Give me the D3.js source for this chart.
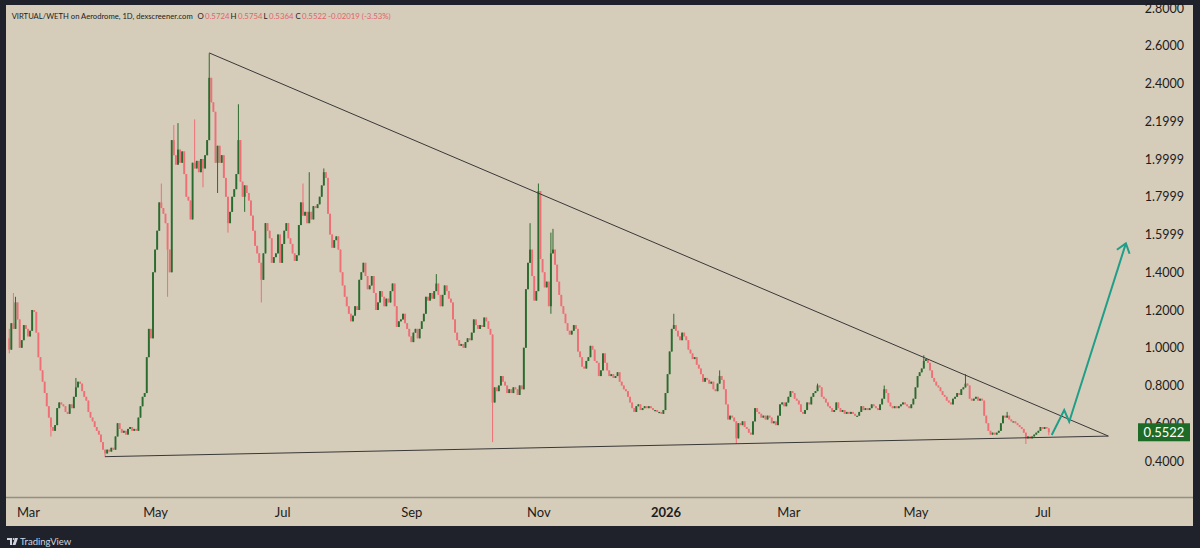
<!DOCTYPE html>
<html>
<head>
<meta charset="utf-8">
<script src="https://cdn.jsdelivr.net/npm/d3@7"></script>
<style>
  html, body { margin: 0; padding: 0; background: #1f222b; }
  svg { display: block; }
</style>
</head>
<body>
<svg id="chart" width="1200" height="548"></svg>
<script>
// ---- data ----
const startDay = "2025-02-20"; // first daily candle
const firstOpen = 1.05;
// daily closes, one per day from startDay (open = previous close)
const closes = [
  0.99,1.13,1.10,1.24,1.15,1.00,1.04,1.12,1.10,1.06,
  1.09,1.20,1.19,1.08,0.95,0.88,0.82,0.76,0.69,0.63,
  0.58,0.56,0.59,0.68,0.71,0.70,0.69,0.66,0.65,0.70,
  0.68,0.74,0.79,0.82,0.81,0.77,0.74,0.72,0.66,0.63,
  0.61,0.58,0.56,0.54,0.50,0.46,0.44,0.46,0.45,0.47,
  0.46,0.53,0.60,0.57,0.55,0.56,0.54,0.57,0.58,0.56,
  0.57,0.56,0.63,0.69,0.74,0.76,0.95,1.10,1.05,1.40,
  1.52,1.62,1.77,1.74,1.71,1.66,1.52,1.40,2.10,2.02,
  1.97,2.05,1.98,2.04,1.92,1.80,1.78,1.68,1.98,1.95,
  1.99,1.93,2.00,1.95,2.02,2.10,2.43,2.30,2.25,1.98,
  2.07,1.98,2.02,1.90,1.80,1.66,1.72,1.80,1.84,1.92,
  2.10,1.88,1.80,1.86,1.82,1.78,1.70,1.62,1.54,1.50,
  1.45,1.36,1.50,1.66,1.62,1.58,1.45,1.48,1.50,1.60,
  1.45,1.55,1.62,1.66,1.58,1.55,1.50,1.46,1.49,1.65,
  1.77,1.70,1.72,1.66,1.72,1.68,1.75,1.74,1.76,1.80,
  1.86,1.93,1.90,1.71,1.60,1.53,1.57,1.59,1.52,1.40,
  1.33,1.27,1.22,1.18,1.14,1.17,1.22,1.20,1.36,1.40,
  1.45,1.38,1.31,1.33,1.38,1.29,1.20,1.24,1.30,1.27,
  1.22,1.26,1.24,1.30,1.34,1.22,1.11,1.14,1.15,1.18,
  1.13,1.10,1.06,1.03,1.08,1.10,1.05,1.10,1.14,1.18,
  1.27,1.25,1.29,1.26,1.30,1.34,1.28,1.22,1.28,1.33,
  1.30,1.26,1.24,1.15,1.08,1.04,1.01,1.02,1.00,1.03,
  1.05,1.04,1.08,1.15,1.12,1.10,1.12,1.11,1.16,1.14,
  1.10,1.07,0.71,0.79,0.77,0.80,0.85,0.82,0.80,0.76,
  0.78,0.76,0.79,0.78,0.75,0.80,0.78,1.00,1.31,1.45,
  1.52,1.38,1.25,1.30,1.83,1.47,1.40,1.32,1.35,1.22,
  1.50,1.52,1.44,1.35,1.28,1.22,1.18,1.13,1.09,1.07,
  1.09,1.12,1.10,0.98,0.95,0.90,0.89,0.93,0.95,1.01,
  0.99,0.93,0.92,0.85,0.88,0.97,0.92,0.88,0.85,0.86,
  0.84,0.85,0.87,0.82,0.80,0.78,0.77,0.74,0.71,0.68,
  0.66,0.69,0.70,0.67,0.68,0.69,0.68,0.69,0.68,0.67,
  0.67,0.66,0.66,0.65,0.67,0.76,0.86,0.98,1.10,1.12,
  1.09,1.06,1.04,1.08,1.06,1.04,0.99,0.97,0.94,0.95,
  0.91,0.89,0.86,0.82,0.84,0.83,0.81,0.82,0.78,0.77,
  0.81,0.85,0.83,0.78,0.70,0.62,0.64,0.63,0.61,0.52,
  0.60,0.59,0.61,0.58,0.57,0.55,0.54,0.61,0.68,0.66,
  0.65,0.63,0.64,0.62,0.64,0.63,0.60,0.61,0.59,0.64,
  0.70,0.71,0.69,0.71,0.74,0.77,0.76,0.73,0.72,0.70,
  0.66,0.65,0.67,0.71,0.70,0.74,0.76,0.77,0.80,0.79,
  0.74,0.73,0.71,0.69,0.68,0.66,0.67,0.71,0.68,0.66,
  0.67,0.65,0.66,0.65,0.66,0.65,0.64,0.64,0.66,0.69,
  0.67,0.68,0.67,0.68,0.70,0.69,0.68,0.67,0.70,0.73,
  0.78,0.76,0.71,0.69,0.68,0.69,0.68,0.69,0.70,0.71,
  0.70,0.69,0.68,0.70,0.73,0.79,0.85,0.87,0.89,0.93,
  0.94,0.92,0.88,0.84,0.82,0.80,0.79,0.77,0.75,0.74,
  0.72,0.71,0.70,0.73,0.74,0.76,0.75,0.78,0.79,0.81,
  0.80,0.73,0.72,0.73,0.74,0.72,0.73,0.72,0.64,0.60,
  0.56,0.54,0.55,0.54,0.55,0.56,0.60,0.64,0.63,0.64,
  0.62,0.61,0.61,0.60,0.59,0.58,0.57,0.55,0.52,0.53,
  0.52,0.53,0.54,0.55,0.56,0.58,0.57,0.58,0.5724,0.5522
];
// notable wicks (day index, high, low)
const wickDay = [0,2,3,20,32,46,73,76,79,81,89,93,96,100,105,110,113,121,141,144,151,205,232,250,254,260,261,319,341,349,388,420,439,459,479,488,499];
const wickHi  = [1.10,1.29,1.27,null,0.84,null,1.87,null,2.18,2.19,2.21,null,2.56,null,null,2.29,null,null,1.87,1.93,1.95,1.39,null,1.66,1.87,1.61,1.63,1.18,0.88,null,0.81,0.80,0.96,0.86,0.66,null,0.5754];
const wickLo  = [0.97,null,null,0.53,null,0.42,null,1.27,null,null,null,1.85,null,1.82,1.61,null,1.72,1.24,null,null,null,null,0.50,null,null,1.18,null,null,null,0.49,null,null,null,null,null,0.49,0.5364];

const priceTicks = [2.8, 2.6, 2.4, 2.2, 2.0, 1.8, 1.6, 1.4, 1.2, 1.0, 0.8, 0.6, 0.4];
const priceTickLabels = ["2.8000","2.6000","2.4000","2.1999","1.9999","1.7999","1.5999","1.4000","1.2000","1.0000","0.8000","0.6000","0.4000"];
const timeTicks = ["2025-03-01","2025-05-01","2025-07-01","2025-09-01","2025-11-01","2026-01-01","2026-03-01","2026-05-01","2026-07-01"];
const timeTickLabels = ["Mar","May","Jul","Sep","Nov","2026","Mar","May","Jul"];

// drawn lines, in (day index, price)
const upperLineDay = [96, 527.6], upperLinePrice = [2.562, 0.532];
const lowerLineDay = [46, 527.6], lowerLinePrice = [0.423, 0.532];
const arrowDay = [500.4, 506.4, 508.8, 536.0], arrowPrice = [0.538, 0.670, 0.608, 1.553];

const title = "VIRTUAL/WETH on Aerodrome, 1D, dexscreener.com";
const ohlcKeys = ["O", "H", "L", "C"];
const ohlcVals = ["0.5724", "0.5754", "0.5364", "0.5522"];
const changeText = "-0.02019 (-3.53%)";

// ---- layout ----
const W = 1200, H = 548;
const paneBg = "#d6ccba", frameBg = "#1f222b";
const upCol = "#2a6b2f", downCol = "#ee6f76";

const svg = d3.select("#chart");
const parse = d3.timeParse("%Y-%m-%d");
const t0 = parse(startDay);

const x = d3.scaleLinear().domain([0, closes.length - 1]).range([9.25, 1048.8]);
const y = d3.scaleLinear().domain([0.4, 2.8]).range([461, 8]);

svg.append("rect").attr("width", W).attr("height", H).attr("fill", frameBg);
svg.append("rect").attr("x", 6).attr("y", 5).attr("width", 1187).attr("height", 521).attr("fill", paneBg);

svg.append("defs").append("clipPath").attr("id", "pane")
  .append("rect").attr("x", 6).attr("y", 5).attr("width", 1130).attr("height", 492);

// candles
const wickMap = new Map(wickDay.map((d, i) => [d, [wickHi[i], wickLo[i]]]));
const candles = closes.map((c, i) => {
  const o = i === 0 ? firstOpen : closes[i - 1];
  const w = wickMap.get(i) || [null, null];
  return {
    i, o, c,
    h: Math.max(o, c, w[0] == null ? -1 : w[0]),
    l: Math.min(o, c, w[1] == null ? 99 : w[1])
  };
});

const g = svg.append("g").attr("clip-path", "url(#pane)");

g.selectAll(".wick").data(candles).join("line")
  .attr("x1", d => x(d.i)).attr("x2", d => x(d.i))
  .attr("y1", d => y(d.h)).attr("y2", d => y(d.l))
  .attr("stroke", d => d.c >= d.o ? upCol : downCol)
  .attr("stroke-width", 1);

g.selectAll(".body").data(candles).join("rect")
  .attr("x", d => x(d.i) - 0.95)
  .attr("width", 1.9)
  .attr("y", d => y(Math.max(d.o, d.c)))
  .attr("height", d => Math.max(1.2, Math.abs(y(d.o) - y(d.c))))
  .attr("fill", d => d.c >= d.o ? upCol : downCol);

// trendlines
const line = d3.line().x(d => x(d[0])).y(d => y(d[1]));
g.append("path").attr("d", line(d3.zip(upperLineDay, upperLinePrice)))
  .attr("fill", "none").attr("stroke", "#383838").attr("stroke-width", 1);
g.append("path").attr("d", line(d3.zip(lowerLineDay, lowerLinePrice)))
  .attr("fill", "none").attr("stroke", "#383838").attr("stroke-width", 1);

// projection arrow
const arrowPts = d3.zip(arrowDay, arrowPrice);
g.append("path").attr("d", line(arrowPts))
  .attr("fill", "none").attr("stroke", "#1f9e88").attr("stroke-width", 2)
  .attr("stroke-linejoin", "miter");
const pa = arrowPts[arrowPts.length - 2], pb = arrowPts[arrowPts.length - 1];
const ax = x(pb[0]), ay = y(pb[1]);
const ang = Math.atan2(ay - y(pa[1]), ax - x(pa[0]));
const head = [ang + Math.PI - 0.65, ang + Math.PI + 0.65].map(a => [ax + 11 * Math.cos(a), ay + 11 * Math.sin(a)]);
g.append("path")
  .attr("d", `M${head[0][0]},${head[0][1]}L${ax},${ay}L${head[1][0]},${head[1][1]}`)
  .attr("fill", "none").attr("stroke", "#1f9e88").attr("stroke-width", 2);

// time axis separator
svg.append("line").attr("x1", 6).attr("x2", 1193).attr("y1", 497.5).attr("y2", 497.5)
  .attr("stroke", "#958e81").attr("stroke-width", 1.5);

// price axis
const yAxis = svg.append("g").attr("transform", "translate(1184,0)")
  .call(d3.axisRight(y).tickValues(priceTicks).tickSize(0).tickPadding(0)
    .tickFormat((d, i) => priceTickLabels[i]));
yAxis.select(".domain").remove();
yAxis.selectAll("text").attr("text-anchor", "end")
  .attr("font-family", "Lato, 'DejaVu Sans', sans-serif").attr("font-size", 12.5).attr("fill", "#1c1c1c");

// time axis
const tickIdx = timeTicks.map(t => d3.timeDay.count(t0, parse(t)));
const xAxis = svg.append("g").attr("transform", "translate(0,508)")
  .call(d3.axisBottom(x).tickValues(tickIdx).tickSize(0).tickPadding(0)
    .tickFormat((d, i) => timeTickLabels[i]));
xAxis.select(".domain").remove();
xAxis.selectAll("text")
  .attr("font-family", "Lato, 'DejaVu Sans', sans-serif").attr("font-size", 13).attr("fill", "#1c1c1c")
  .attr("font-weight", (d, i) => /^\d{4}$/.test(timeTickLabels[i]) ? "bold" : "normal");

// last price label
const last = closes[closes.length - 1];
svg.append("rect").attr("x", 1138).attr("y", y(last) - 9).attr("width", 52).attr("height", 18)
  .attr("fill", "#1e6a27");
svg.append("text").attr("x", 1164).attr("y", y(last) + 4.5).attr("text-anchor", "middle")
  .attr("font-family", "Lato, 'DejaVu Sans', sans-serif").attr("font-size", 13).attr("fill", "#ffffff")
  .text(d3.format(".4f")(last));

// header legend
const hdrFont = "Lato, 'DejaVu Sans', sans-serif", hdrSize = 7.8;
svg.append("text").attr("x", 11.7).attr("y", 19)
  .attr("font-family", hdrFont).attr("font-size", hdrSize).attr("fill", "#1c1c1c")
  .attr("textLength", 181).attr("lengthAdjust", "spacingAndGlyphs").text(title);
const keyX = [197.5, 230.5, 263.5, 295.5];
const valX = [205, 238, 269, 302];
ohlcKeys.forEach((k, i) => {
  svg.append("text").attr("x", keyX[i]).attr("y", 19)
    .attr("font-family", hdrFont).attr("font-size", hdrSize).attr("fill", "#1c1c1c").text(k);
  svg.append("text").attr("x", valX[i]).attr("y", 19)
    .attr("font-family", hdrFont).attr("font-size", hdrSize).attr("fill", "#e2646b").text(ohlcVals[i]);
});
svg.append("text").attr("x", 328).attr("y", 19)
  .attr("font-family", hdrFont).attr("font-size", hdrSize).attr("fill", "#e2646b").text(changeText);

// TradingView mark
const tv = svg.append("g").attr("transform", "translate(7,538)").attr("fill", "#d1d4dc");
tv.append("path").attr("d", "M0,0H5V7H3V2H0Z");
tv.append("circle").attr("cx", 6.6).attr("cy", 1).attr("r", 1);
tv.append("path").attr("d", "M8,0H11L8.5,7H5.5Z");
svg.append("text").attr("x", 20).attr("y", 545)
  .attr("font-family", "Lato, 'DejaVu Sans', sans-serif").attr("font-size", 9.5).attr("fill", "#d1d4dc")
  .text("TradingView");
</script>
</body>
</html>
